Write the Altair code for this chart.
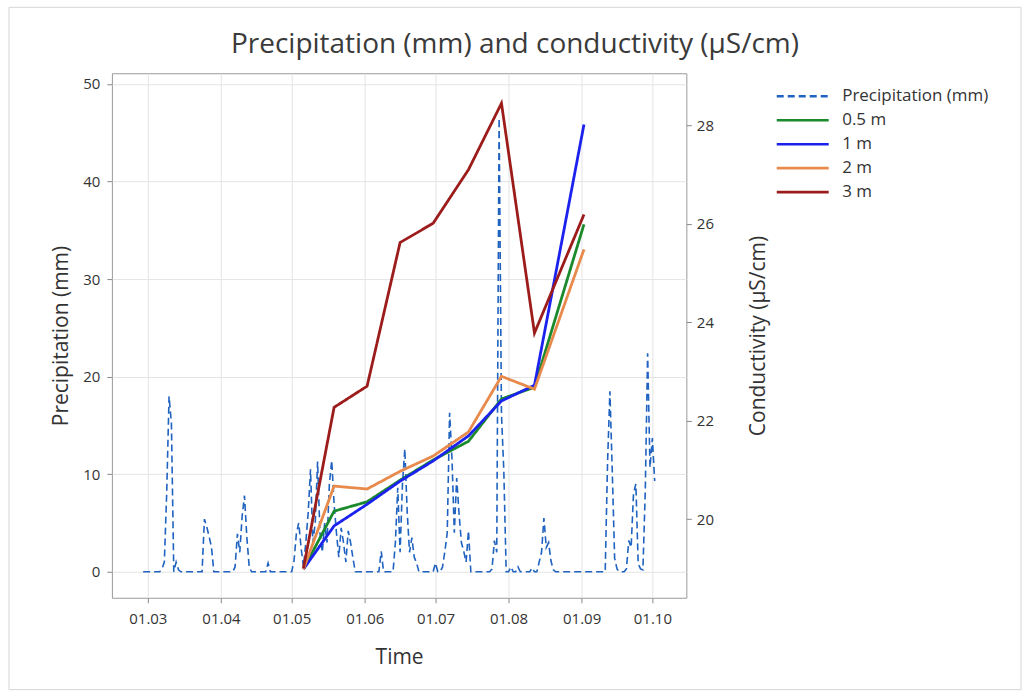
import altair as alt
import pandas as pd

# ---------------- data ----------------
title_text = "Precipitation (mm) and conductivity (µS/cm)"
series_names = ["Precipitation (mm)", "0.5 m", "1 m", "2 m", "3 m"]
series_colors = ["#1f62c0", "#1a8a2c", "#1c22ee", "#e88a4c", "#9c1c1c"]

# daily precipitation (mm), starting 27.02.2021
precip_start = "2021-02-27"
precip_mm = [
    0, 0, 0, 0, 0, 0, 0, 0, 0.3, 1.0,
    8.1, 18.0, 15.2, 0, 1.0, 0.2, 0, 0, 0, 0,
    0, 0, 0, 0, 0, 0, 5.4, 4.6, 3.6, 2.5,
    0, 0, 0, 0, 0, 0, 0, 0, 0, 0.5,
    3.9, 2.0, 5.7, 7.8, 3.5, 0.5, 0, 0, 0, 0,
    0, 0, 0, 0.9, 0, 0, 0, 0, 0, 0,
    0, 0, 0, 0, 1.1, 3.9, 5.0, 2.5, 0.5, 3.0,
    6.0, 10.5, 3.0, 5.0, 11.3, 4.0, 2.0, 5.0, 3.0, 9.0,
    11.4, 7.0, 4.0, 1.5, 4.5, 3.0, 1.0, 4.2, 3.0, 1.4,
    0, 0, 0, 0, 0, 0, 0, 0, 0, 0,
    0, 2.1, 0, 0, 0, 0, 0, 3.0, 8.6, 2.0,
    9.0, 12.6, 6.2, 2.0, 3.5, 1.5, 0.9, 0, 0, 0,
    0, 0, 0, 0, 0.9, 0, 0, 0.5, 2.1, 4.0,
    16.3, 11.7, 4.0, 9.6, 6.0, 3.0, 2.1, 1.0, 4.2, 0,
    0, 0, 0, 0, 0, 0, 0, 0, 0.3, 3.2,
    2.0, 46.5, 16.2, 10.3, 0, 0, 0.5, 0, 0, 0.5,
    0, 0, 0, 0, 0, 0.4, 0, 0, 1.0, 2.0,
    5.5, 2.5, 3.0, 1.1, 0.2, 0, 0, 0, 0, 0,
    0, 0, 0, 0, 0, 0, 0, 0, 0, 0,
    0, 0, 0, 0, 0, 0, 0, 11.2, 18.5, 10.3,
    1.4, 0.3, 0, 0, 0, 0.3, 3.2, 2.5, 8.0, 9.0,
    0.8, 0.3, 0.2, 8.3, 22.4, 10.7, 13.7, 9.3,
]

# conductivity (µS/cm) sampling dates and values per depth
cond_dates = ["2021-05-06", "2021-05-19", "2021-06-02", "2021-06-16", "2021-06-30",
              "2021-07-15", "2021-07-29", "2021-08-12", "2021-09-02"]
cond_05m = [18.98, 20.16, 20.35, 20.79, 21.20, 21.58, 22.44, 22.68, 25.99]
cond_1m = [18.98, 19.86, 20.30, 20.77, 21.18, 21.69, 22.40, 22.72, 28.02]
cond_2m = [18.98, 20.67, 20.61, 20.97, 21.28, 21.77, 22.90, 22.64, 25.48]
cond_3m = [19.00, 22.27, 22.70, 25.62, 26.01, 27.10, 28.45, 23.78, 26.19]

x_tick_months = [3, 4, 5, 6, 7, 8, 9, 10]
left_ticks = [0, 10, 20, 30, 40, 50]
right_ticks = [20, 22, 24, 26, 28]

# ---------------- tables ----------------
p_dates = pd.date_range(precip_start, periods=len(precip_mm), freq="D").strftime("%Y-%m-%dT00:00:00")
precip_df = pd.DataFrame({"date": p_dates, "value": precip_mm, "series": series_names[0]})

rows = []
for name, vals in zip(series_names[1:], [cond_05m, cond_1m, cond_2m, cond_3m]):
    for d, v in zip(cond_dates, vals):
        rows.append({"date": d + "T00:00:00", "value": v, "series": name})
cond_df = pd.DataFrame(rows)

# ---------------- encodings ----------------
FONT = "Open Sans"
TXT = "#333333"

legend = alt.Legend(
    orient="none", legendX=664, legendY=14,
    symbolType="stroke", symbolSize=2704, symbolStrokeWidth=2.6,
    clipHeight=18, rowPadding=6, labelOffset=12,
    labelFontSize=17, labelColor=TXT, labelFont=FONT, padding=0,
)
color_enc = alt.Color("series:N", title=None,
                      scale=alt.Scale(domain=series_names, range=series_colors),
                      legend=legend)
dash_enc = alt.StrokeDash("series:N", title=None,
                          scale=alt.Scale(domain=series_names,
                                          range=[[7, 4], [1, 0], [1, 0], [1, 0], [1, 0]]),
                          legend=legend)

x_enc = alt.X(
    "date:T",
    scale=alt.Scale(domain=[alt.DateTime(year=2021, month=2, date=13, hours=18),
                            alt.DateTime(year=2021, month=10, date=15, hours=10)]),
    axis=alt.Axis(values=[alt.DateTime(year=2021, month=m, date=1) for m in x_tick_months],
                  format="%d.%m", title="Time", grid=True, labelPadding=9, titlePadding=20),
)

frame = alt.Chart(pd.DataFrame({"k": [0]})).mark_rect(
    fillOpacity=0, stroke="#d6d6d6", strokeWidth=1
).encode(x=alt.value(-103), x2=alt.value(910), y=alt.value(-66), y2=alt.value(617))

cond = alt.Chart(cond_df).mark_line(strokeWidth=2.8).encode(
    x=x_enc,
    y=alt.Y("value:Q",
            scale=alt.Scale(domain=[18.4, 29.06], nice=False, zero=False),
            axis=alt.Axis(values=right_ticks, orient="right", grid=False,
                          title="Conductivity (µS/cm)", titleAngle=270,
                          titlePadding=55, labelPadding=5)),
    color=color_enc,
    strokeDash=dash_enc,
    detail="series:N",
)

precip = alt.Chart(precip_df).mark_line(strokeWidth=1.6).encode(
    x=x_enc,
    y=alt.Y("value:Q",
            scale=alt.Scale(domain=[-2.66, 51.1], nice=False, zero=False),
            axis=alt.Axis(values=left_ticks, orient="left", grid=True,
                          title="Precipitation (mm)", titlePadding=11, labelPadding=7)),
    color=color_enc,
    strokeDash=dash_enc,
)

chart = alt.layer(frame, precip, cond).resolve_scale(y="independent").properties(
    width=575, height=525,
    padding={"left": 8, "top": 6, "right": 8, "bottom": 2},
    title=alt.TitleParams(title_text, fontSize=28, font=FONT, fontWeight="normal",
                          color="#3a3a3a", anchor="middle", frame="bounds", offset=-52),
    background="white",
).configure_view(
    stroke="#9a9a9a", strokeWidth=1
).configure_axis(
    labelFont=FONT, labelFontSize=15, labelColor=TXT,
    titleFont=FONT, titleFontSize=21, titleFontWeight="normal", titleColor=TXT,
    gridColor="#e4e4e4", gridWidth=1, tickColor="#888888", tickSize=5, domain=False,
)

chart.save("out.html", embed_options={"renderer": "svg", "actions": False})
